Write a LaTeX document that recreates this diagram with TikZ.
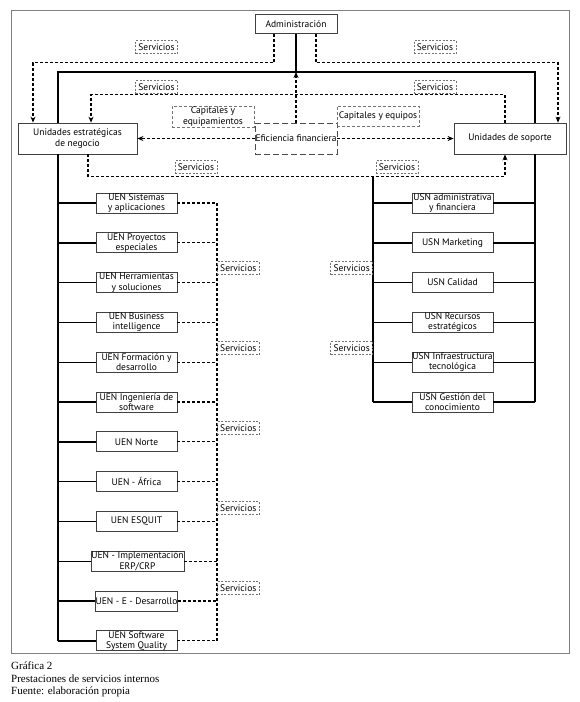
\documentclass[tikz,border=0pt]{standalone}
\usepackage{fontspec}
\setmainfont{Liberation Serif}
\newfontfamily\diag{PT Sans}
\usetikzlibrary{arrows.meta,calc}
\begin{document}
\begin{tikzpicture}[x=1pt,y=-1pt,
  every node/.style={font=\diag\fontsize{9.5}{10.3}\selectfont, align=center, inner sep=0pt},
  unitbox/.style={draw=black!75, line width=0.8pt, fill=white, minimum width=81pt, minimum height=20pt},
  svc/.style={draw=black!55, dash pattern=on 2pt off 1.5pt, line width=0.6pt, minimum width=42pt, minimum height=13pt},
  capbox/.style={draw=black!55, dash pattern=on 3pt off 2pt, line width=0.6pt, minimum width=82pt, minimum height=21pt},
  sol/.style={line width=1.4pt},
  dsh/.style={line width=1.1pt, dash pattern=on 3pt off 2pt},
  arr/.style={-{Stealth[length=6pt,width=5pt]}},
]
\useasboundingbox (0,0) rectangle (580,702);
\draw[black!50, line width=0.8pt] (11,10) rectangle (569,653);

% main nodes
\node[unitbox, minimum width=82pt, minimum height=19pt] (admin) at (296,24) {Administración};
\node[unitbox, minimum width=119pt, minimum height=31pt] (ue) at (77.5,138.5) {Unidades estratégicas\\de negocio};
\node[unitbox, minimum width=112pt, minimum height=31pt] (sop) at (510,138.5) {Unidades de soporte};
\node[draw=black!70, dash pattern=on 6pt off 3pt, line width=0.7pt, minimum width=82pt, minimum height=31pt] (ef) at (296,138.5) {Eficiencia financiera};
\node[capbox] (c1) at (213,116.5) {Capitales y\\equipamientos};
\node[capbox, minimum height=20pt] (c2) at (378,116) {Capitales y equipos};

\node[svc] (s1) at (156.5,47) {Servicios};
\node[svc] (s2) at (435,47) {Servicios};
\node[svc] (s3) at (156.5,87) {Servicios};
\node[svc] (s4) at (435,87) {Servicios};
\node[svc] (s5) at (196,167) {Servicios};
\node[svc] (s6) at (397,167) {Servicios};

% UEN column
\node[unitbox] (u1) at (136.5,203) {UEN Sistemas\\y aplicaciones};
\node[unitbox] (u2) at (136.5,242.8) {UEN Proyectos\\especiales};
\node[unitbox] (u3) at (136.5,282.6) {UEN Herramientas\\y soluciones};
\node[unitbox] (u4) at (136.5,322.4) {UEN Business\\intelligence};
\node[unitbox] (u5) at (136.5,362.2) {UEN Formación y\\desarrollo};
\node[unitbox] (u6) at (136.5,402) {UEN Ingeniería de\\software};
\node[unitbox] (u7) at (136.5,441.8) {UEN Norte};
\node[unitbox] (u8) at (136.5,481.6) {UEN - África};
\node[unitbox] (u9) at (136.5,521.4) {UEN ESQUIT};
\node[unitbox, minimum width=93pt] (u10) at (137.5,561.2) {UEN - Implementación\\ERP/CRP};
\node[unitbox] (u11) at (136.5,601) {UEN - E - Desarrollo};
\node[unitbox] (u12) at (136.5,640.8) {UEN Software\\System Quality};

% USN column
\node[unitbox] (v1) at (452.5,203) {USN administrativa\\y financiera};
\node[unitbox] (v2) at (452.5,242.8) {USN Marketing};
\node[unitbox] (v3) at (452.5,282.6) {USN Calidad};
\node[unitbox] (v4) at (452.5,322.4) {USN Recursos\\estratégicos};
\node[unitbox] (v5) at (452.5,362.2) {USN Infraestructura\\tecnológica};
\node[unitbox] (v6) at (452.5,402) {USN Gestión del\\conocimiento};

% coordinates
\coordinate (tl) at (58,72);
\coordinate (tr) at (535,72);
\coordinate (ul) at (373,176);
\coordinate (dv) at (217,203);

% solid structure
\draw[sol] (admin.south) -- (admin.south |- tl);
\draw[sol] (ue.north -| tl) -- (tl) -- (tr) -- (sop.north -| tr);
\draw[sol] (ue.south -| tl) -- (tl |- u12.west);
\draw[sol] (sop.south -| tr) -- (tr |- v6.east);
\draw[sol] (ul) -- (ul |- v6.west);
\foreach \k in {1,...,12} {
  \draw[sol] (tl |- u\k.west) -- (u\k.west);
  \draw[dsh] (u\k.east) -- (u\k.east -| dv);
}
\foreach \k in {1,...,6} {
  \draw[sol] (ul |- v\k.west) -- (v\k.west);
  \draw[sol] (v\k.east) -- (v\k.east -| tr);
}
\draw[dsh] (dv) -- (dv |- u12.east);

% dashed service flows
\draw[dsh,arr] ([xshift=-22pt]admin.south) -- ++(0,29) -| ([xshift=-44.5pt]ue.north);
\draw[dsh,arr] ([xshift=20pt]admin.south) -- ++(0,29) -| ([xshift=48pt]sop.north);
\draw[dsh,arr] (ef.north) -- (ef.north |- tl);
\draw[dsh,arr] ([xshift=-5pt]sop.north) -- ++(0,-28) -| ([xshift=13.5pt]ue.north);
\draw[dsh,arr] (ef.west) -- (ue.east);
\draw[dsh,arr] (ef.east) -- (sop.west);
\draw[dsh,arr] ([xshift=10.5pt]ue.south) -- ++(0,22) -| ([xshift=-5pt]sop.south);

% side service labels
\node[svc, anchor=west] (sv1) at (217,268) {Servicios};
\node[svc, anchor=west] (sv2) at (217,348) {Servicios};
\node[svc, anchor=west] (sv3) at (217,428) {Servicios};
\node[svc, anchor=west] (sv4) at (217,508) {Servicios};
\node[svc, anchor=west] (sv5) at (217,588) {Servicios};
\node[svc, anchor=east] (sw1) at (373,268) {Servicios};
\node[svc, anchor=east] (sw2) at (373,348) {Servicios};

% caption
\node[anchor=north west, align=left, font=\fontsize{11}{12.2}\selectfont] (capt) at (11,662) {Gráfica 2\\Prestaciones de servicios internos\\Fuente: elaboración propia};
\end{tikzpicture}
\end{document}
